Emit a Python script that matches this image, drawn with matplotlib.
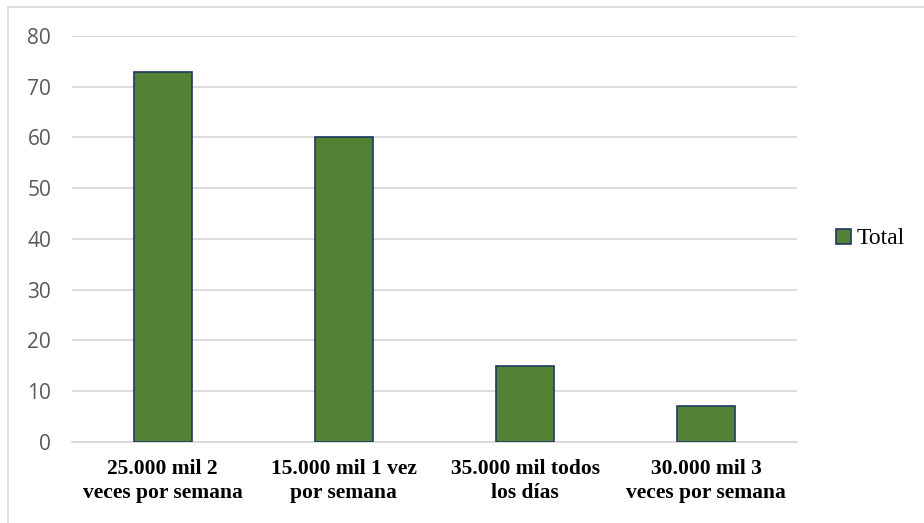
import matplotlib.pyplot as plt
from matplotlib.patches import Rectangle

categorias = ["25.000 mil 2\nveces por semana", "15.000 mil 1 vez\npor semana",
              "35.000 mil todos\nlos días", "30.000 mil 3\nveces por semana"]
total = [73, 60, 15, 7]
yticks = [0, 10, 20, 30, 40, 50, 60, 70, 80]

verde = "#548235"
borde = "#1F3864"
gris = "#D9D9D9"

fig = plt.figure(figsize=(9.24, 5.23), dpi=100)
ax = fig.add_axes([0.0779, 0.1549, 0.7847, 0.7763])

x = range(len(categorias))
ax.bar(x, total, width=0.32, color=verde, edgecolor=borde, linewidth=1.2,
       label="Total", zorder=3)

ax.set_xlim(-0.5, len(categorias) - 0.5)
ax.set_ylim(0, 80)
ax.set_yticks(yticks)
ax.yaxis.grid(True, color=gris, linewidth=1.3, zorder=0)
ax.set_axisbelow(True)
for s in ["top", "right", "left"]:
    ax.spines[s].set_visible(False)
ax.spines["bottom"].set_color(gris)
ax.spines["bottom"].set_linewidth(1.3)
ax.tick_params(axis="both", length=0)
ax.tick_params(axis="y", pad=15, labelsize=15, labelcolor="#595959")
for lbl in ax.get_yticklabels():
    lbl.set_family("Open Sans")

ax.set_xticks(list(x))
ax.set_xticklabels(categorias, family="Liberation Serif", fontweight="bold",
                   fontsize=15.5, linespacing=1.3)
ax.tick_params(axis="x", pad=12)

leg = ax.legend(loc="center left", bbox_to_anchor=(1.025, 0.5), frameon=False,
                prop={"family": "Liberation Serif", "size": 17},
                handlelength=0.6, handleheight=0.6, handletextpad=0.25)

# marco exterior del gráfico (sólo asoman el borde superior y el izquierdo)
fig.patches.append(Rectangle((8 / 924, -10 / 523), 930 / 924, 526 / 523,
                             transform=fig.transFigure, fill=False,
                             edgecolor=gris, linewidth=1.2))

fig.savefig("out.png", dpi=100)
